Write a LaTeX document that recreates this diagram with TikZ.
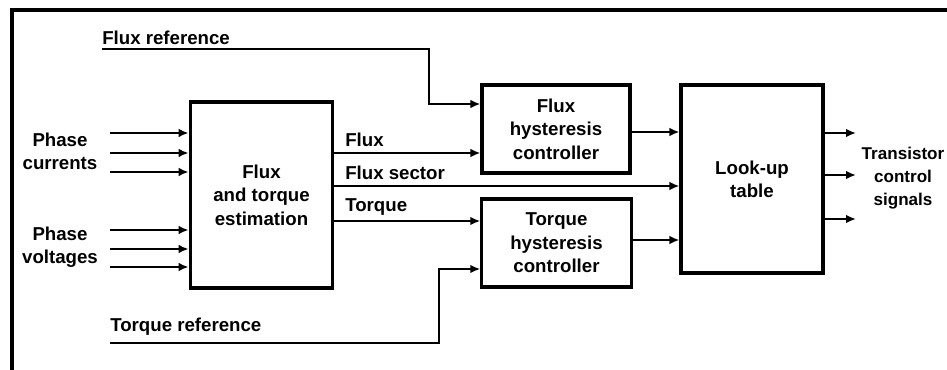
\documentclass[tikz,border=0pt]{standalone}
\usepackage{fontspec}
\setmainfont{Liberation Sans}
\usetikzlibrary{arrows.meta}
\begin{document}
\begin{tikzpicture}[x=0.75pt,y=-0.75pt,
  every node/.style={font=\fontsize{14}{17.5}\selectfont\bfseries, inner sep=0pt},
  blockbox/.style={draw, line width=2.3pt, align=center},
  arr/.style={line width=2.1pt, -{Latex[length=7.5pt,width=6.5pt]}},
  lbl/.style={align=center}]
\useasboundingbox (0,0) rectangle (947,370);
\fill[white] (0,0) rectangle (947,370);
% frame (only top and left visible)
\coordinate (fbl) at (12,372);
\coordinate (ftl) at (12,10);
\coordinate (ftr) at (949,10);
\draw[line width=2.4pt] (fbl) -- (ftl) -- (ftr);
% blocks
\node[blockbox, minimum width=107pt, minimum height=139.5pt] (est) at (261.5,195) {Flux\\and torque\\estimation};
\node[blockbox, minimum width=111pt, minimum height=66pt] (fhc) at (556,129) {Flux\\hysteresis\\controller};
\node[blockbox, minimum width=112pt, minimum height=66pt] (thc) at (556.5,243) {Torque\\hysteresis\\controller};
\node[blockbox, minimum width=106.5pt, minimum height=141pt] (lk) at (752,179) {Look-up\\table};
% input labels
\node[lbl] (pcl) at (60,151) {Phase\\currents};
\node[lbl] (pvl) at (60,247) {Phase\\voltages};
% input arrows
\coordinate (pc1) at (110,133);
\coordinate (pc2) at (110,153);
\coordinate (pc3) at (110,172);
\coordinate (pv1) at (110,230);
\coordinate (pv2) at (110,249);
\coordinate (pv3) at (110,267);
\foreach \c in {pc1,pc2,pc3,pv1,pv2,pv3}
  \draw[arr] (\c) -- (\c -| est.west);
% flux reference
\node[anchor=west] (frl) at (102,38) {Flux reference};
\coordinate (fr) at (102,49);
\coordinate (fbend) at (429,104);
\draw[arr] (fr) -| (fbend) -- (fbend -| fhc.west);
% torque reference
\node[anchor=west] (trl) at (110,327) {Torque reference};
\coordinate (tr) at (110,343);
\coordinate (tbend) at (439,269);
\draw[arr] (tr) -| (tbend) -- (tbend -| thc.west);
% estimator outputs
\coordinate (eflux) at (333,153);
\coordinate (esec) at (333,186);
\coordinate (etq) at (333,221);
\draw[arr] (est.east |- eflux) -- (fhc.west |- eflux);
\draw[arr] (est.east |- esec) -- (lk.west |- esec);
\draw[arr] (est.east |- etq) -- (thc.west |- etq);
\node[anchor=west] (fluxl) at (345,140) {Flux};
\node[anchor=west] (secl) at (345,173) {Flux sector};
\node[anchor=west] (tql) at (345,207) {Torque};
% controller outputs
\coordinate (fo) at (630,132);
\coordinate (to) at (630,240);
\draw[arr] (fhc.east |- fo) -- (lk.west |- fo);
\draw[arr] (thc.east |- to) -- (lk.west |- to);
% look-up outputs
\coordinate (o1) at (856,133);
\coordinate (o2) at (856,175);
\coordinate (o3) at (856,219);
\foreach \c in {o1,o2,o3}
  \draw[arr] (lk.east |- \c) -- (\c);
\node[lbl, font=\fontsize{12.8}{17.5}\selectfont\bfseries] (tcs) at (903,178) {Transistor\\control\\signals};
\end{tikzpicture}
\end{document}
